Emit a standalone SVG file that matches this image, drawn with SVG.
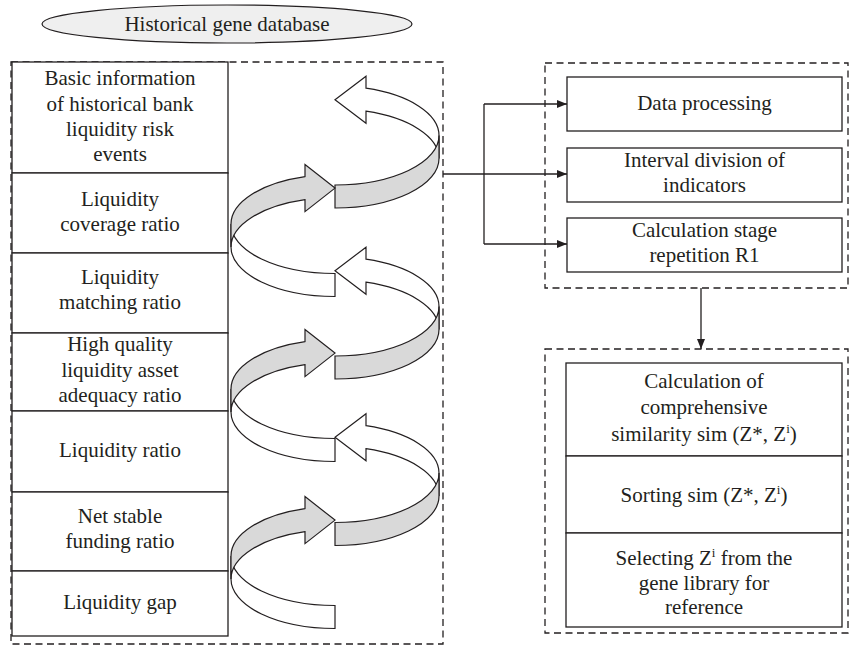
<svg xmlns="http://www.w3.org/2000/svg" width="850" height="647" viewBox="0 0 850 647">
<defs>
<style>
text{font-family:"Liberation Serif","Times New Roman",serif;font-size:21px;fill:#231f20;text-anchor:middle}
.box{fill:#fff;stroke:#231f20;stroke-width:1.3}
.dash{fill:none;stroke:#231f20;stroke-width:1.3;stroke-dasharray:7 4.5}
.w{fill:#fff;stroke:#231f20;stroke-width:1.2;stroke-linejoin:miter}
.g{fill:#d9d9d9;stroke:#231f20;stroke-width:1.2;stroke-linejoin:miter}
.c{fill:none;stroke:#231f20;stroke-width:1.3}
.sup{font-size:13px}
</style>
<marker id="ah" viewBox="0 0 10 8" refX="10" refY="4" markerWidth="10" markerHeight="8" markerUnits="userSpaceOnUse" orient="auto">
<path d="M0,0 L10,4 L0,8 Z" fill="#231f20"/>
</marker>
</defs>
<rect width="850" height="647" fill="#fff"/>

<g id="db">
<ellipse cx="227" cy="24" rx="185" ry="19" fill="#efefef" stroke="#231f20" stroke-width="1.2"/>
<text x="227" y="31">Historical gene database</text>
</g>

<g id="groups">
<rect class="dash" x="11" y="62" width="432" height="582"/>
<rect class="dash" x="545" y="63" width="303" height="225"/>
<rect class="dash" x="545" y="349" width="303" height="284"/>
</g>

<g id="n1"><rect class="box" x="12" y="62" width="216" height="111"/>
<text x="120"><tspan x="120" y="85">Basic information</tspan><tspan x="120" y="110.5">of historical bank</tspan><tspan x="120" y="136">liquidity risk</tspan><tspan x="120" y="161">events</tspan></text></g>
<g id="n2"><rect class="box" x="12" y="173" width="216" height="80"/>
<text><tspan x="120" y="206">Liquidity</tspan><tspan x="120" y="231">coverage ratio</tspan></text></g>
<g id="n3"><rect class="box" x="12" y="253" width="216" height="80"/>
<text><tspan x="120" y="284">Liquidity</tspan><tspan x="120" y="309">matching ratio</tspan></text></g>
<g id="n4"><rect class="box" x="12" y="333" width="216" height="78"/>
<text><tspan x="120" y="351">High quality</tspan><tspan x="120" y="376.5">liquidity asset</tspan><tspan x="120" y="402">adequacy ratio</tspan></text></g>
<g id="n5"><rect class="box" x="12" y="411" width="216" height="81"/>
<text x="120" y="457">Liquidity ratio</text></g>
<g id="n6"><rect class="box" x="12" y="492" width="216" height="79"/>
<text><tspan x="120" y="523">Net stable</tspan><tspan x="120" y="548">funding ratio</tspan></text></g>
<g id="n7"><rect class="box" x="12" y="571" width="216" height="65"/>
<text x="120" y="609">Liquidity gap</text></g>

<g id="spirals">
<path class="w" d="M366,88.2 L366,76.2 L335,99.7 L366,123.2 L366,111.2 A104,49.5 0 0 1 439,158.5 L439,135.5 A104,49.5 0 0 0 366,88.2 Z"/>
<path class="g" d="M439,135.5 A104,49.5 0 0 1 335,185 L335,208 A104,49.5 0 0 0 439,158.5 Z"/>
<path class="w" d="M231,224 A104,49.5 0 0 0 335,273.5 L335,296.5 A104,49.5 0 0 1 231,247 Z"/>
<path class="g" d="M305,176.6 L305,164.6 L335,188.1 L305,211.6 L305,199.6 A104,49.5 0 0 0 231,247 L231,224 A104,49.5 0 0 1 305,176.6 Z"/>

<path class="w" d="M366,259.2 L366,247.2 L335,270.7 L366,294.2 L366,282.2 A104,49.5 0 0 1 439,329.5 L439,306.5 A104,49.5 0 0 0 366,259.2 Z"/>
<path class="g" d="M439,306.5 A104,49.5 0 0 1 335,356 L335,379 A104,49.5 0 0 0 439,329.5 Z"/>
<path class="w" d="M231,389 A104,49.5 0 0 0 335,438.5 L335,461.5 A104,49.5 0 0 1 231,412 Z"/>
<path class="g" d="M305,341.6 L305,329.6 L335,353.1 L305,376.6 L305,364.6 A104,49.5 0 0 0 231,412 L231,389 A104,49.5 0 0 1 305,341.6 Z"/>

<path class="w" d="M366,425.7 L366,413.7 L335,437.2 L366,460.7 L366,448.7 A104,49.5 0 0 1 439,496 L439,473 A104,49.5 0 0 0 366,425.7 Z"/>
<path class="g" d="M439,473 A104,49.5 0 0 1 335,522.5 L335,545.5 A104,49.5 0 0 0 439,496 Z"/>
<path class="w" d="M231,556 A104,49.5 0 0 0 335,605.5 L335,628.5 A104,49.5 0 0 1 231,579 Z"/>
<path class="g" d="M305,508.6 L305,496.6 L335,520.1 L305,543.6 L305,531.6 A104,49.5 0 0 0 231,579 L231,556 A104,49.5 0 0 1 305,508.6 Z"/>
</g>

<g id="r1"><rect class="box" x="567" y="77" width="275" height="54"/>
<text x="704.5" y="110">Data processing</text></g>
<g id="r2"><rect class="box" x="567" y="148" width="275" height="54"/>
<text><tspan x="704.5" y="167">Interval division of</tspan><tspan x="704.5" y="192">indicators</tspan></text></g>
<g id="r3"><rect class="box" x="567" y="218" width="275" height="54"/>
<text><tspan x="704.5" y="237">Calculation stage</tspan><tspan x="704.5" y="262">repetition R1</tspan></text></g>

<g id="b1"><rect class="box" x="566" y="363" width="276" height="93"/>
<text><tspan x="704" y="388">Calculation of</tspan><tspan x="704" y="414">comprehensive</tspan><tspan x="704" y="441">similarity sim (Z*, Z<tspan class="sup" dy="-8">i</tspan><tspan dy="8">)</tspan></tspan></text></g>
<g id="b2"><rect class="box" x="566" y="456" width="276" height="77"/>
<text x="704" y="502">Sorting sim (Z*, Z<tspan class="sup" dy="-8">i</tspan><tspan dy="8">)</tspan></text></g>
<g id="b3"><rect class="box" x="566" y="533" width="276" height="94"/>
<text><tspan x="704" y="565">Selecting Z<tspan class="sup" dy="-8">i</tspan><tspan dy="8"> from the</tspan></tspan><tspan x="704" y="589.5">gene library for</tspan><tspan x="704" y="614">reference</tspan></text></g>

<g id="connectors">
<path class="c" d="M443,174 L567,174" marker-end="url(#ah)"/>
<path class="c" d="M484,104 L484,244"/>
<path class="c" d="M484,104 L567,104" marker-end="url(#ah)"/>
<path class="c" d="M484,244 L567,244" marker-end="url(#ah)"/>
<path class="c" d="M701,288 L701,349" marker-end="url(#ah)"/>
</g>
</svg>
